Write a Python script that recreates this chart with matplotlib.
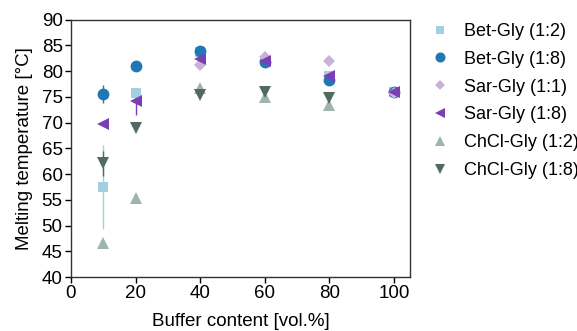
import numpy as np
import matplotlib.pyplot as plt

plt.rcParams['font.family'] = ['Liberation Sans', 'DejaVu Sans']

x = [10, 20, 40, 60, 80, 100]

labels = ["Bet-Gly (1:2)", "Bet-Gly (1:8)", "Sar-Gly (1:1)",
          "Sar-Gly (1:8)", "ChCl-Gly (1:2)", "ChCl-Gly (1:8)"]

bet_12 = [57.5, 75.7, 83.6, 82.0, 79.0, 76.0]
bet_12_err = [8.1, 0.8, 0.3, 0.3, 0.3, 0.2]
bet_18 = [75.5, 81.0, 83.8, 81.8, 78.3, 76.0]
bet_18_err = [1.8, 0.3, 0.3, 0.3, 0.3, 0.2]
sar_11 = [None, None, 81.2, 82.8, 82.0, 75.8]
sar_11_err = [0, 0, 0.3, 0.3, 0.3, 0.2]
sar_18 = [69.8, 74.1, 82.3, 82.0, 79.0, 76.0]
sar_18_err = [0.3, 2.6, 0.4, 0.3, 0.3, 0.3]
chcl_12 = [46.7, 55.3, 76.8, 75.0, 73.5, None]
chcl_12_err = [0.3, 0.3, 0.3, 0.3, 0.3, 0]
chcl_18 = [62.1, 69.0, 75.3, 76.0, 74.8, None]
chcl_18_err = [2.4, 0.3, 0.3, 0.3, 0.3, 0]

series = [bet_12, bet_18, sar_11, sar_18, chcl_12, chcl_18]
errors = [bet_12_err, bet_18_err, sar_11_err, sar_18_err, chcl_12_err, chcl_18_err]
markers = ['s', 'o', 'D', '<', '^', 'v']
sizes = [7.5, 8.5, 6.5, 8.5, 8.5, 8.5]
colors = ['#a6cee3', '#1f78b4', '#cab2d6', '#7b3fb5', '#9fb5aa', '#526b60']

fig = plt.figure(figsize=(5.77, 3.31), dpi=100)
ax = fig.add_axes([0.123, 0.163, 0.588, 0.778])

for ys, es, lab, m, s, c in zip(series, errors, labels, markers, sizes, colors):
    xs = [xi for xi, yi in zip(x, ys) if yi is not None]
    yv = [yi for yi in ys if yi is not None]
    ev = [ei for ei, yi in zip(es, ys) if yi is not None]
    ax.errorbar(xs, yv, yerr=ev, fmt=m, color=c, ecolor=c, markersize=s,
                elinewidth=1, capsize=2.5, capthick=1, label=lab,
                markeredgewidth=0)

ax.set_xlim(0, 105)
ax.set_ylim(40, 90)
ax.set_xticks([0, 20, 40, 60, 80, 100])
ax.set_yticks(np.arange(40, 91, 5))
ax.tick_params(labelsize=13.5, length=4, width=1, pad=2)
for sp in ax.spines.values():
    sp.set_linewidth(1)
    sp.set_color('#333333')
ax.set_xlabel("Buffer content [vol.%]", fontsize=13.5, labelpad=8)
ax.set_ylabel("Melting temperature [\u00b0C]", fontsize=13.5, labelpad=6)

handles, labs = ax.get_legend_handles_labels()
handles = [h[0] for h in handles]
ax.legend(handles, labs, loc='upper left', bbox_to_anchor=(1.0, 1.05),
          frameon=False, fontsize=13, labelspacing=0.6,
          handlelength=1.55, handletextpad=0.5, markerscale=0.85)

fig.savefig("out.png", dpi=100)
